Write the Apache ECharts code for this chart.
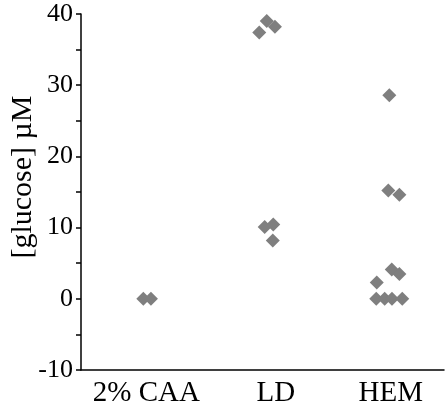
<!DOCTYPE html>
<html>
<head>
<meta charset="utf-8">
<style>
  html, body { margin: 0; padding: 0; background: #fff; }
  #chart { width: 445px; height: 408px; }
</style>
<script src="https://cdn.jsdelivr.net/npm/echarts@6/dist/echarts.min.js"></script>
</head>
<body>
<div id="chart"></div>
<script>
// Groups shown along the x axis
const categories = ['2% CAA', 'LD', 'HEM'];

// Glucose concentration (µM) for each sample, per group
const caaValues = [0, 0];
const ldValues = [39.0, 38.2, 37.4, 10.45, 10.1, 8.2];
const hemValues = [28.6, 15.2, 14.6, 4.1, 3.5, 2.3, 0, 0, 0, 0];

// Horizontal jitter of each sample around its group position
const caaJitter = [0.015, 0.078];
const ldJitter = [0.035, 0.103, -0.027, 0.089, 0.018, 0.085];
const hemJitter = [0.048, 0.040, 0.131, 0.068, 0.131, -0.056, -0.06, 0.01, 0.07, 0.155];

// Y axis ticks
const yTicks = [-10, 0, 10, 20, 30, 40];

const groups = [caaValues, ldValues, hemValues];
const jitters = [caaJitter, ldJitter, hemJitter];
const points = [];
groups.forEach((vals, g) => {
  vals.forEach((v, i) => points.push([g + 1 + jitters[g][i], v]));
});

// nudges for the group labels along the axis
const labelShift = [0.04, 0.11, 0.06];

const serif = "'Times New Roman', Tinos, 'Liberation Serif', serif";
const chart = echarts.init(document.getElementById('chart'));
chart.setOption({
  animation: false,
  backgroundColor: '#fff',
  grid: { left: 81, right: 1, top: 14, bottom: 38, containLabel: false, outerBoundsMode: 'none' },
  xAxis: {
    type: 'value',
    min: 0.5,
    max: 3.5,
    splitLine: { show: false },
    axisLine: { show: true, onZero: false, lineStyle: { color: '#000', width: 1.5 } },
    axisTick: { show: false },
    axisLabel: {
      customValues: categories.map((c, i) => i + 1 + labelShift[i]),
      formatter: (v) => categories[Math.round(v) - 1],
      showMinLabel: true,
      showMaxLabel: true,
      color: '#000',
      fontFamily: serif,
      fontSize: 29,
      margin: 9
    }
  },
  yAxis: {
    type: 'value',
    min: yTicks[0],
    max: yTicks[yTicks.length - 1],
    interval: 10,
    name: '[glucose] µM',
    nameLocation: 'middle',
    nameRotate: 90,
    nameGap: 43,
    nameMoveOverlap: false,
    nameTextStyle: { color: '#000', fontFamily: serif, fontSize: 30, padding: [0, 0, 0, 30] },
    splitLine: { show: false },
    axisLine: { show: true, lineStyle: { color: '#000', width: 1.5 } },
    axisTick: { show: true, length: 5, lineStyle: { color: '#000', width: 1.5 } },
    minorTick: { show: true, splitNumber: 2, length: 5, lineStyle: { color: '#000', width: 1.5 } },
    axisLabel: { color: '#000', fontFamily: serif, fontSize: 26, margin: 8 }
  },
  series: [{
    type: 'scatter',
    data: points,
    symbol: 'diamond',
    symbolSize: 14,
    itemStyle: { color: '#7f7f7f', opacity: 1 }
  }]
});
</script>
</body>
</html>
